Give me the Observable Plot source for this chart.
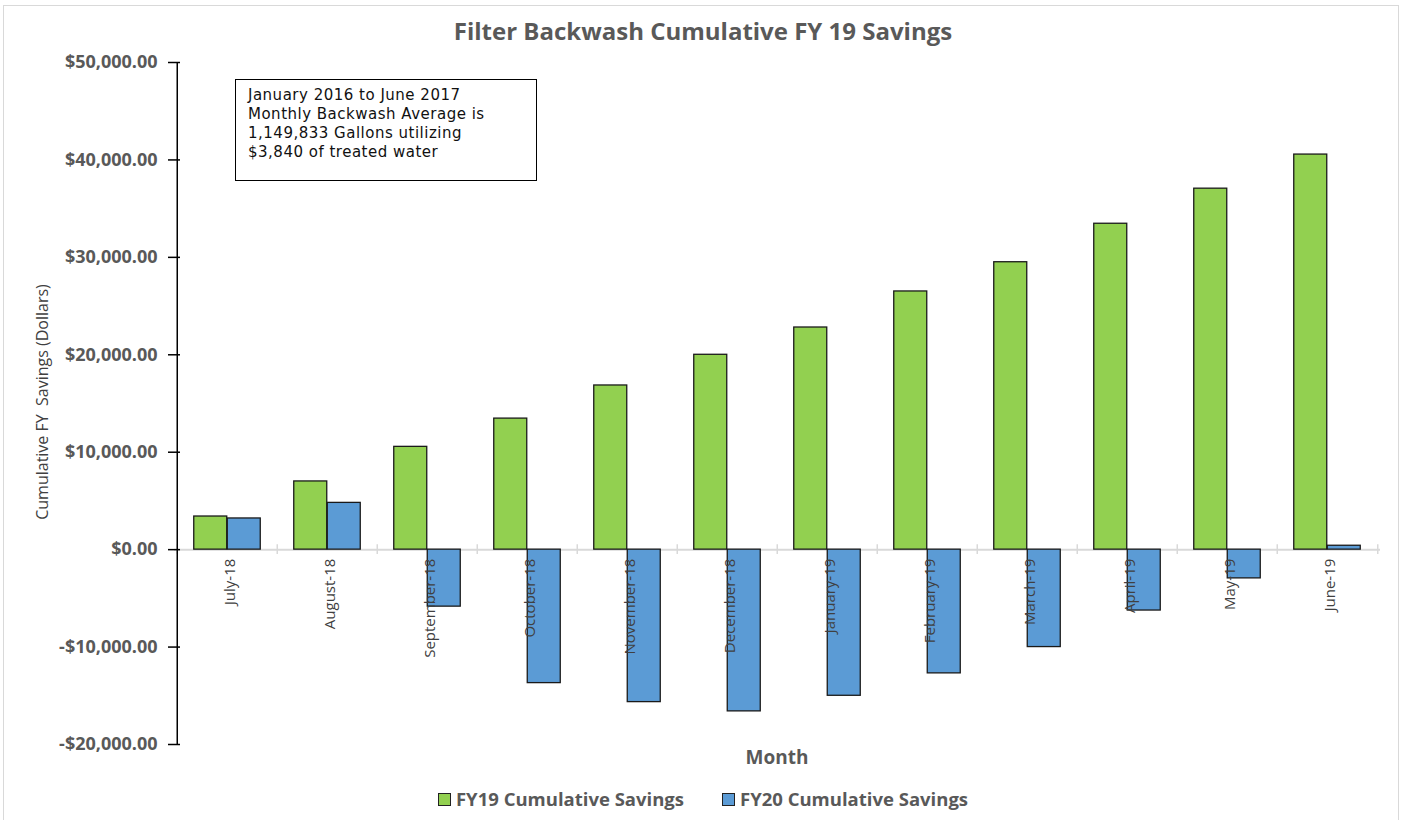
<!DOCTYPE html>
<html>
<head>
<meta charset="utf-8">
<script src="https://cdn.jsdelivr.net/npm/d3@7"></script>
<script src="https://cdn.jsdelivr.net/npm/@observablehq/plot@0.6"></script>
<style>
  html, body { margin: 0; padding: 0; background: #fff; }
  #wrap { position: relative; width: 1406px; height: 820px; font-family: "Open Sans", sans-serif; }
  #border { position: absolute; left: 3px; top: 5px; width: 1396px; height: 830px; border: 1px solid #d9d9d9; box-sizing: border-box; }
  #title { position: absolute; left: 0; width: 1406px; top: 15px; text-align: center; font-weight: bold; font-size: 24px; line-height: 32px; color: #595959; }
  #note { position: absolute; left: 235px; top: 79px; width: 302px; height: 102px; border: 1.5px solid #000; box-sizing: border-box; padding: 6px 12px; font-family: "DejaVu Sans", sans-serif; font-size: 15px; line-height: 19px; letter-spacing: 0.5px; color: #111; background: #fff; }
  #ylabel { position: absolute; left: 42px; top: 402px; transform: translate(-50%, -50%) rotate(-90deg); white-space: pre; font-family: "Liberation Sans Narrow", "Open Sans", sans-serif; font-size: 16px; color: #404040; }
  #xlabel { position: absolute; left: 777px; top: 744px; transform: translateX(-50%); font-weight: bold; font-size: 19px; color: #595959; }
  #legend { position: absolute; top: 786px; left: 0; width: 1406px; display: flex; justify-content: center; gap: 38px; font-weight: bold; font-size: 18.5px; color: #595959; }
  #legend span.sw { display: inline-block; width: 11px; height: 11px; border: 1px solid #222; margin-right: 5px; vertical-align: 0px; }
  #chart { position: absolute; left: 0; top: 0; }
</style>
</head>
<body>
<div id="wrap">
  <div id="border"></div>
  <div id="chart"></div>
  <div id="title">Filter Backwash Cumulative FY 19 Savings</div>
  <div id="note">January 2016 to June 2017<br>Monthly Backwash Average is<br>1,149,833 Gallons utilizing<br>$3,840 of treated water</div>
  <div id="ylabel">Cumulative FY  Savings (Dollars)</div>
  <div id="xlabel">Month</div>
  <div id="legend">
    <div><span class="sw" style="background:#92D050"></span>FY19 Cumulative Savings</div>
    <div><span class="sw" style="background:#5B9BD5"></span>FY20 Cumulative Savings</div>
  </div>
</div>
<script>
const months = ["July-18","August-18","September-18","October-18","November-18","December-18",
                "January-19","February-19","March-19","April-19","May-19","June-19"];
const fy19 = [3400, 7000, 10550, 13450, 16850, 20000, 22800, 26500, 29500, 33450, 37050, 40550];
const fy20 = [3200, 4800, -5850, -13700, -15650, -16600, -15000, -12700, -10000, -6250, -2950, 400];
const yTicks = [-20000, -10000, 0, 10000, 20000, 30000, 40000, 50000];
const seriesNames = ["FY19 Cumulative Savings", "FY20 Cumulative Savings"];
const colors = ["#92D050", "#5B9BD5"];

const data19 = months.map((m, i) => ({month: m, value: fy19[i], series: seriesNames[0]}));
const data20 = months.map((m, i) => ({month: m, value: fy20[i], series: seriesNames[1]}));

const W = 1406, H = 820;
const mL = 174, mR = 26, mT = 62, mB = 76;
const step = (W - mL - mR) / months.length;
const gap = step / 6;      // outer gap each side of a bar group
const barW = step / 3;     // each bar width
const tickHalf = 500;      // half-length of the category ticks on the zero line (data units)

const fmt = d => (d < 0 ? "-$" : "$") + d3.format(",.2f")(Math.abs(d));

const chart = Plot.plot({
  width: W, height: H,
  marginLeft: mL, marginRight: mR, marginTop: mT, marginBottom: mB,
  style: {background: "transparent", overflow: "visible"},
  x: {domain: months, padding: 0, axis: null},
  y: {domain: [-20000, 50000], axis: null},
  marks: [
    Plot.ruleY([0], {stroke: "#d9d9d9", strokeWidth: 2}),
    Plot.ruleX(months, {x: d => d, dx: -step / 2, y1: -tickHalf, y2: tickHalf, stroke: "#d9d9d9", strokeWidth: 1.5}),
    Plot.ruleX([months[months.length - 1]], {x: d => d, dx: step / 2, y1: -tickHalf, y2: tickHalf, stroke: "#d9d9d9", strokeWidth: 1.5}),
    Plot.barY(data19, {x: "month", y: "value", fill: colors[0], stroke: "#1a1a1a", strokeWidth: 1.3,
      insetLeft: gap, insetRight: gap + barW}),
    Plot.barY(data20, {x: "month", y: "value", fill: colors[1], stroke: "#1a1a1a", strokeWidth: 1.3,
      insetLeft: gap + barW, insetRight: gap}),
    Plot.ruleX([months[0]], {x: d => d, dx: -step / 2, y1: -20000, y2: 50000, stroke: "#000", strokeWidth: 1.5}),
    Plot.axisY({ticks: yTicks, label: null, tickSize: 12, dx: 6, tickPadding: 11, tickFormat: fmt,
      stroke: "#000", strokeWidth: 1.5, fill: "#595959", fontWeight: "bold", fontSize: 18,
      fontFamily: "'Open Sans', sans-serif"}),
    Plot.text(months, {x: d => d, y: 0, text: d => d, rotate: -90, textAnchor: "end", dy: 9, dx: 3,
      fill: "#404040", fontSize: 15, fontFamily: "'Liberation Sans Narrow', 'Open Sans', sans-serif"})
  ]
});
document.getElementById("chart").appendChild(chart);
</script>
</body>
</html>
